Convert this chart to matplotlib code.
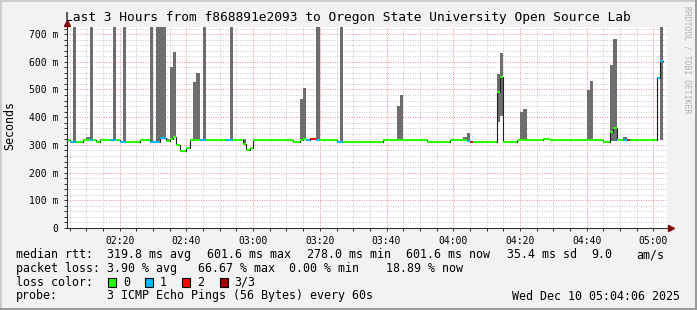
import numpy as np
import matplotlib.pyplot as plt
from matplotlib.patches import Rectangle
from matplotlib.lines import Line2D

plt.rcParams['font.family'] = ['DejaVu Sans Mono']

# one sample per minute starting 02:04, median rtt in ms
median_ms = [
    317, 311, 311, 311, 311, 316, 316, 316, 316, 311, 316, 316, 316, 316, 316, 316, 311, 311, 311, 311,
    311, 311, 316, 316, 316, 311, 311, 311, 326, 326, 314, 322, 327, 301, 278, 278, 288, 316, 316, 316,
    316, 316, 316, 316, 316, 316, 316, 316, 316, 316, 316, 316, 316, 302, 281, 290, 316, 316, 316, 316,
    316, 316, 316, 316, 316, 316, 316, 316, 311, 311, 317, 320, 316, 320, 320, 316, 316, 316, 316, 316,
    316, 311, 311, 312, 312, 312, 312, 312, 312, 312, 312, 312, 312, 312, 312, 317, 317, 317, 317, 317,
    317, 317, 317, 317, 317, 317, 317, 317, 311, 311, 311, 311, 311, 311, 311, 316, 316, 316, 316, 316,
    313, 311, 311, 311, 311, 311, 311, 311, 311, 491, 545, 311, 311, 311, 311, 316, 316, 316, 316, 316,
    316, 316, 316, 321, 321, 316, 316, 316, 316, 316, 316, 316, 316, 316, 316, 316, 316, 316, 316, 316,
    316, 310, 310, 348, 362, 316, 316, 316, 316, 316, 316, 316, 316, 316, 316, 316, 316, 543, 601.6, np.nan,
]
# lost pings out of 3
loss = [
    0, 1, 1, 0, 0, 0, 0, 1, 0, 0, 0, 0, 0, 1, 1, 0, 1, 1, 0, 0,
    0, 0, 0, 0, 0, 1, 1, 1, 1, 1, 0, 0, 0, 0, 0, 0, 0, 0, 0, 0,
    1, 1, 0, 0, 0, 0, 0, 0, 1, 1, 0, 0, 0, 0, 0, 0, 0, 0, 0, 0,
    0, 0, 0, 0, 0, 0, 0, 0, 0, 0, 0, 0, 1, 2, 2, 1, 0, 0, 0, 0,
    0, 1, 1, 0, 0, 0, 0, 0, 0, 0, 0, 0, 0, 0, 0, 0, 0, 0, 0, 0,
    0, 0, 0, 0, 0, 0, 0, 0, 0, 0, 0, 0, 0, 0, 0, 0, 0, 0, 0, 0,
    1, 2, 0, 0, 0, 0, 0, 0, 0, 0, 0, 0, 0, 0, 0, 0, 0, 0, 0, 0,
    0, 0, 0, 0, 0, 0, 0, 0, 0, 0, 0, 0, 0, 0, 0, 0, 0, 0, 0, 0,
    0, 0, 0, 0, 0, 0, 0, 1, 2, 0, 0, 0, 0, 0, 0, 0, 0, 1, 1, 0,
]

# smoke (spread of the pings) where visible
smoke_step = [2, 5, 6, 7, 14, 17, 25, 27, 28, 29, 30, 31, 32, 38, 39, 41, 49, 53,
              70, 71, 75, 82, 99, 100, 104, 105, 119, 120, 129, 130, 136, 137,
              156, 157, 163, 164, 167, 178]
smoke_lo = [311, 316, 316, 316, 316, 311, 311, 311, 326, 326, 314, 320, 326, 316, 316, 316, 316, 302,
            317, 320, 316, 311, 317, 317, 317, 317, 316, 313, 384, 404, 316, 316,
            316, 316, 313, 313, 316, 316]
smoke_hi = [900, 320, 328, 900, 900, 900, 900, 900, 900, 900, 322, 582, 636, 527, 560, 900, 900, 320,
            466, 506, 900, 900, 440, 480, 321, 322, 328, 344, 556, 633, 418, 431,
            498, 532, 588, 682, 328, 900]

tick_labels = ["02:20", "02:40", "03:00", "03:20", "03:40", "04:00", "04:20", "04:40", "05:00"]
loss_colors = ['#26ff00', '#00b8ff', '#ff0000', '#a10000']
loss_names = ['0', '1', '2', '3/3']

W, H = 697, 310
def fx(px):
    return px / W
def fy(py):
    return 1 - py / H

fig = plt.figure(figsize=(W / 100, H / 100), dpi=100)
fig.patch.set_facecolor('#f2f2f2')
ax = fig.add_axes([fx(66.7), fy(228), 600.3 / W, 201 / H])
ax.set_facecolor('white')

t = np.arange(len(median_ms))
med = np.array(median_ms, dtype=float)
lossa = np.array(loss)

# grid
maj_x = [int(s[:2]) * 60 + int(s[3:]) - (2 * 60 + 4) for s in tick_labels]
ax.set_xticks(maj_x)
ax.set_xticklabels(tick_labels)
ax.set_xticks(np.arange(1, 180, 5), minor=True)
ax.set_yticks(np.arange(0, 701, 100))
ax.set_yticklabels(['0'] + ['%d m' % v for v in range(100, 701, 100)])
ax.set_yticks(np.arange(0, 721, 20), minor=True)
ax.set_axisbelow(True)
ax.grid(which='minor', color='#c8c8c8', ls=(0, (1, 1.5)), lw=0.7)
ax.grid(which='major', color='#f08c8c', ls=(0, (1, 1.5)), lw=0.7)

# smoke
lo = np.array(smoke_lo, dtype=float)
hi = np.array(smoke_hi, dtype=float)
ax.bar(smoke_step, hi - lo, bottom=lo, width=1, align='edge', color='#6e6e6e', lw=0, zorder=2)

# median line + loss colour bands
ax.step(np.append(t, len(t)), np.append(med, med[-1]), where='post', color='#202020', lw=0.8, zorder=3)
sw = 3.6
for lvl, col in enumerate(loss_colors):
    m = (lossa == lvl) & ~np.isnan(med)
    if m.any():
        ax.bar(t[m], 2 * sw, bottom=med[m] - sw, width=1, align='edge', color=col, lw=0, zorder=4)

ax.set_xlim(0.1, 180.1)
ax.set_ylim(0, 725.6)

for s in ['top', 'right', 'left', 'bottom']:
    ax.spines[s].set_visible(False)
axc = '#333333'
ax.plot([0, 1.004], [0, 0], transform=ax.transAxes, color=axc, lw=0.8, clip_on=False, zorder=6)
ax.plot([0, 0], [0, 1.015], transform=ax.transAxes, color=axc, lw=0.8, clip_on=False, zorder=6)
ax.plot([1.0065], [0], transform=ax.transAxes, marker='>', ms=4, color='#7f0000', clip_on=False, zorder=7)
ax.plot([0], [1.021], transform=ax.transAxes, marker='^', ms=4, color='#7f0000', clip_on=False, zorder=7)

ax.tick_params(which='both', length=2, width=0.7, color=axc, direction='out')
ax.tick_params(axis='x', labelsize=7, pad=4)
ax.tick_params(axis='y', labelsize=7, pad=4)

# title, labels
fig.text(fx(347.5), fy(18), 'Last 3 Hours from f868891e2093 to Oregon State University Open Source Lab',
         ha='center', va='center', fontsize=9.3)
fig.text(fx(10), fy(125), 'Seconds', rotation=90, ha='center', va='center', fontsize=8.4)
fig.text(fx(687.5), fy(60), 'RRDTOOL / TOBI OETIKER', rotation=270, ha='center', va='center',
         fontsize=5.8, color='#b0b0b0')

# legend
fs = 8.4
rows = [
    (254.7, [(16, 'median rtt:'), (106.7, '319.8 ms avg'), (207.1, '601.6 ms max'), (306.7, '278.0 ms min'),
             (406.2, '601.6 ms now'), (506.7, '35.4 ms sd'), (591.1, '9.0'), (636.4, 'am/s')]),
    (268.3, [(16, 'packet loss:'), (106.7, '3.90 % avg'), (197.7, '66.67 % max'), (288.7, '0.00 % min'),
             (385.8, '18.89 % now')]),
    (282.3, [(16, 'loss color:')]),
    (296, [(16, 'probe:'), (106.7, '3 ICMP Echo Pings (56 Bytes) every 60s')]),
]
for y, items in rows:
    for x, s in items:
        fig.text(fx(x), fy(y), s, ha='left', va='center', fontsize=fs)
fig.text(fx(680.5), fy(296), 'Wed Dec 10 05:04:06 2025', ha='right', va='center', fontsize=fs)

box_x = [108, 145, 182, 219.6]
lab_x = [123, 160, 197, 234]
for bx, lx, col, name in zip(box_x, lab_x, loss_colors, loss_names):
    fig.add_artist(Rectangle((fx(bx), fy(286.5)), 8 / W, 9 / H, transform=fig.transFigure,
                             facecolor=col, edgecolor='black', lw=0.8))
    fig.text(fx(lx), fy(282.3), name, ha='left', va='center', fontsize=fs)

# 3d frame
fig.add_artist(Line2D([0, 1], [fy(0.7), fy(0.7)], transform=fig.transFigure, color='#cbcbcb', lw=1.4))
fig.add_artist(Line2D([fx(0.7), fx(0.7)], [0, 1], transform=fig.transFigure, color='#cbcbcb', lw=1.4))
fig.add_artist(Line2D([0, 1], [fy(H - 0.7), fy(H - 0.7)], transform=fig.transFigure, color='#999999', lw=1.4))
fig.add_artist(Line2D([fx(W - 0.7), fx(W - 0.7)], [0, 1], transform=fig.transFigure, color='#999999', lw=1.4))

fig.savefig('out.png', dpi=100, facecolor=fig.get_facecolor())
